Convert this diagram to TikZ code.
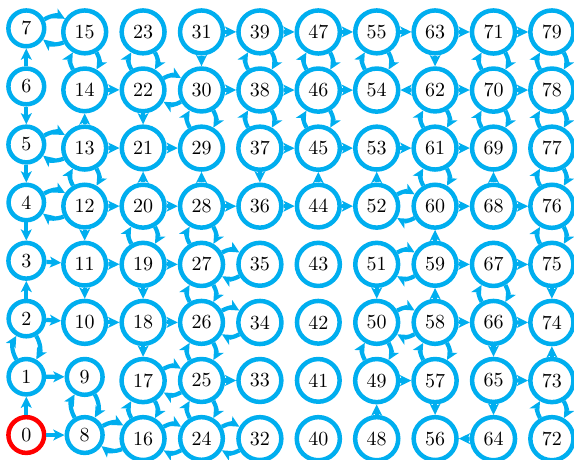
\documentclass[tikz,border=0pt]{standalone}
\usetikzlibrary{arrows.meta}
\definecolor{cy}{RGB}{0,174,239}
\begin{document}
\begin{tikzpicture}[x=0.5pt,y=-0.5pt,
  st/.style={circle,draw=cy,line width=2.25pt,anchor=north,text=black},
  arr/.style={draw=cy,line width=2.1pt,-{Stealth[length=5.6pt,width=5.4pt,inset=1.4pt]}},
  bi/.style={arr,bend left=30}]
\useasboundingbox (0,0) rectangle (574,460);
\foreach \c in {0,...,9} \foreach \r in {0,...,7} {
  \pgfmathtruncatemacro\n{8*\c+\r}
  \ifnum\n=0 \def\col{red}\else\def\col{cy}\fi
  \node[st,draw=\col] (n\n) at ({26.3+58.4*\c},{31.7+58.1*(7-\r)-23.5}) {\n};
}
% one-way connectors
\foreach \a/\b in {31/39,39/47,47/55,55/63,63/71,71/79,
  14/22,30/38,38/46,46/54,62/54,62/70,70/78,
  13/21,21/29,37/45,45/53,53/61,61/69,
  12/20,20/28,28/36,36/44,44/52,60/68,68/76,
  3/11,11/19,19/27,59/67,67/75,
  2/10,10/18,18/26,58/66,66/74,
  1/9,25/33,49/57,65/73,
  0/8,64/56,
  0/1,2/3,4/3,5/4,6/5,6/7,
  11/10,12/11,13/14,
  18/17,19/18,20/21,22/21,
  28/29,31/30,37/36,44/45,
  48/49,51/50,52/53,
  57/56,58/59,59/60,63/62,
  65/64,66/65,68/69,
  73/74,75/74}
  \draw[arr] (n\a) -- (n\b);
% two-way connectors
\foreach \a/\b in {7/15,22/30,5/13,4/12,52/60,27/35,51/59,26/34,50/58,17/25,8/16,16/24,24/32,
  1/2,8/9,12/13,14/15,16/17,19/20,22/23,
  24/25,25/26,26/27,27/28,29/30,37/38,38/39,
  45/46,46/47,49/50,54/55,57/58,60/61,61/62,
  66/67,69/70,70/71,72/73,75/76,76/77,77/78,78/79}
  {\draw[bi] (n\a) to (n\b); \draw[bi] (n\b) to (n\a);}
\end{tikzpicture}
\end{document}
